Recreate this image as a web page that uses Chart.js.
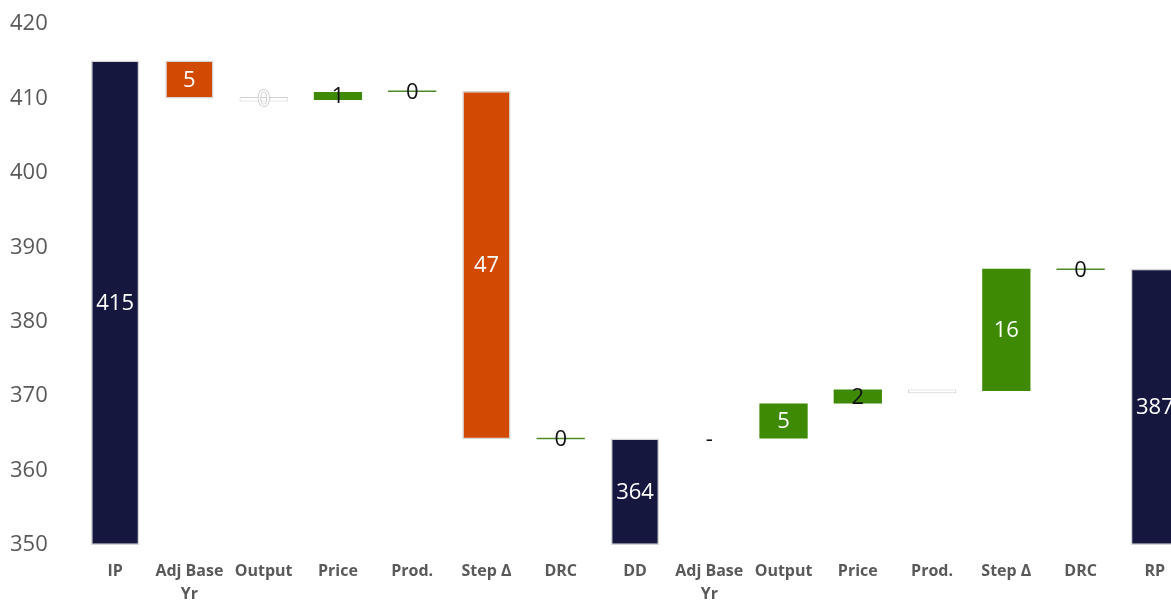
<!DOCTYPE html>
<html>
<head>
<meta charset="utf-8">
<script src="https://cdn.jsdelivr.net/npm/chart.js@4.4.1/dist/chart.umd.min.js"></script>
<style>
    html, body { margin: 0; padding: 0; background: #fff; overflow: hidden; }
    #wrap { width: 1200px; height: 603px; position: relative; }
</style>
</head>
<body>
<div id="wrap"><canvas id="chart"></canvas></div>
<script>
// categories
const categories = ['IP', ['Adj Base', 'Yr'], 'Output', 'Price', 'Prod.', 'Step Δ', 'DRC',
    'DD', ['Adj Base', 'Yr'], 'Output', 'Price', 'Prod.', 'Step Δ', 'DRC', 'RP'];

// waterfall segments (bottom / top of each floating bar)
const barBottom = [350, 410.0, 409.6, 409.8, 410.85, 364.2, 364.2, 350, 364.3, 364.3, 369.0, 370.4, 370.7, 386.95, 350];
const barTop    = [415.1, 415.1, 410.2, 410.85, 411.05, 411.0, 364.4, 364.3, 364.3, 369.0, 370.9, 370.9, 387.1, 387.15, 387.1];

// bar kind: total, decrease, increase, flat, blank
const barKind = ['total', 'down', 'blank', 'up', 'flat', 'down', 'flat',
    'total', 'none', 'up', 'up', 'blank', 'up', 'flat', 'total'];

// data labels
const valueLabels = ['415', '5', '0', '1', '0', '47', '0', '364', '-', '5', '2', '', '16', '0', '387'];
const labelStyle  = ['white', 'white', 'ghost', 'black', 'black', 'white', 'black',
    'white', 'black', 'white', 'black', 'black', 'white', 'black', 'white'];

const yTicks = { min: 350, max: 420, step: 10 };

const fillFor = {
    total: '#15173f',
    down: '#d24a02',
    up: '#3e8a04',
    flat: '#4e8a28',
    blank: '#ffffff',
    none: 'rgba(0,0,0,0)'
};
const borderFor = {
    total: '#d6d6d6',
    down: '#d6d6d6',
    up: 'rgba(0,0,0,0)',
    flat: 'rgba(0,0,0,0)',
    blank: '#cfcfcf',
    none: 'rgba(0,0,0,0)'
};

const labelPlugin = {
    id: 'waterfallLabels',
    afterDatasetsDraw(chart) {
        const ctx = chart.ctx;
        const meta = chart.getDatasetMeta(0);
        ctx.save();
        ctx.font = '22px "Open Sans", sans-serif';
        ctx.textAlign = 'center';
        ctx.textBaseline = 'middle';
        meta.data.forEach((bar, i) => {
            const txt = valueLabels[i];
            if (!txt) return;
            const p = bar.getProps(['x', 'y', 'base'], true);
            const cy = (p.y + p.base) / 2 + 1;
            const style = labelStyle[i];
            if (style === 'ghost') {
                ctx.lineWidth = 1.5;
                ctx.strokeStyle = '#c4c4c4';
                ctx.strokeText(txt, p.x, cy);
                ctx.fillStyle = '#ffffff';
                ctx.fillText(txt, p.x, cy);
            } else {
                ctx.fillStyle = style === 'white' ? '#ffffff' : '#111111';
                ctx.fillText(txt, p.x, cy);
            }
        });
        ctx.restore();
    }
};

const ctx = document.getElementById('chart').getContext('2d');
new Chart(ctx, {
    type: 'bar',
    data: {
        labels: categories,
        datasets: [{
            data: barBottom.map((b, i) => [b, barTop[i]]),
            backgroundColor: barKind.map(k => fillFor[k]),
            borderColor: barKind.map(k => borderFor[k]),
            borderWidth: barKind.map(k => (k === 'total' || k === 'down') ? 1.5 : (k === 'blank' ? 1 : 0)),
            borderSkipped: false,
            barPercentage: 0.65,
            categoryPercentage: 1.0
        }]
    },
    options: {
        responsive: true,
        maintainAspectRatio: false,
        animation: false,
        layout: { padding: { top: 24, left: 10, right: 8, bottom: 0 } },
        plugins: {
            legend: { display: false },
            tooltip: { enabled: false }
        },
        scales: {
            x: {
                grid: { display: false, drawTicks: false },
                border: { display: false },
                ticks: {
                    color: '#595959',
                    padding: 15,
                    maxRotation: 0,
                    autoSkip: false,
                    font: { family: '"Open Sans", sans-serif', size: 16, weight: 'bold', lineHeight: 1.45 }
                },
                afterFit(scale) { scale.height = 58; }
            },
            y: {
                min: yTicks.min,
                max: yTicks.max,
                grid: { display: false, drawTicks: false },
                border: { display: false },
                ticks: {
                    stepSize: yTicks.step,
                    color: '#595959',
                    crossAlign: 'far',
                    font: { family: '"Open Sans", sans-serif', size: 22 }
                },
                afterFit(scale) { scale.width = 68; }
            }
        }
    },
    plugins: [labelPlugin]
});
</script>
</body>
</html>
